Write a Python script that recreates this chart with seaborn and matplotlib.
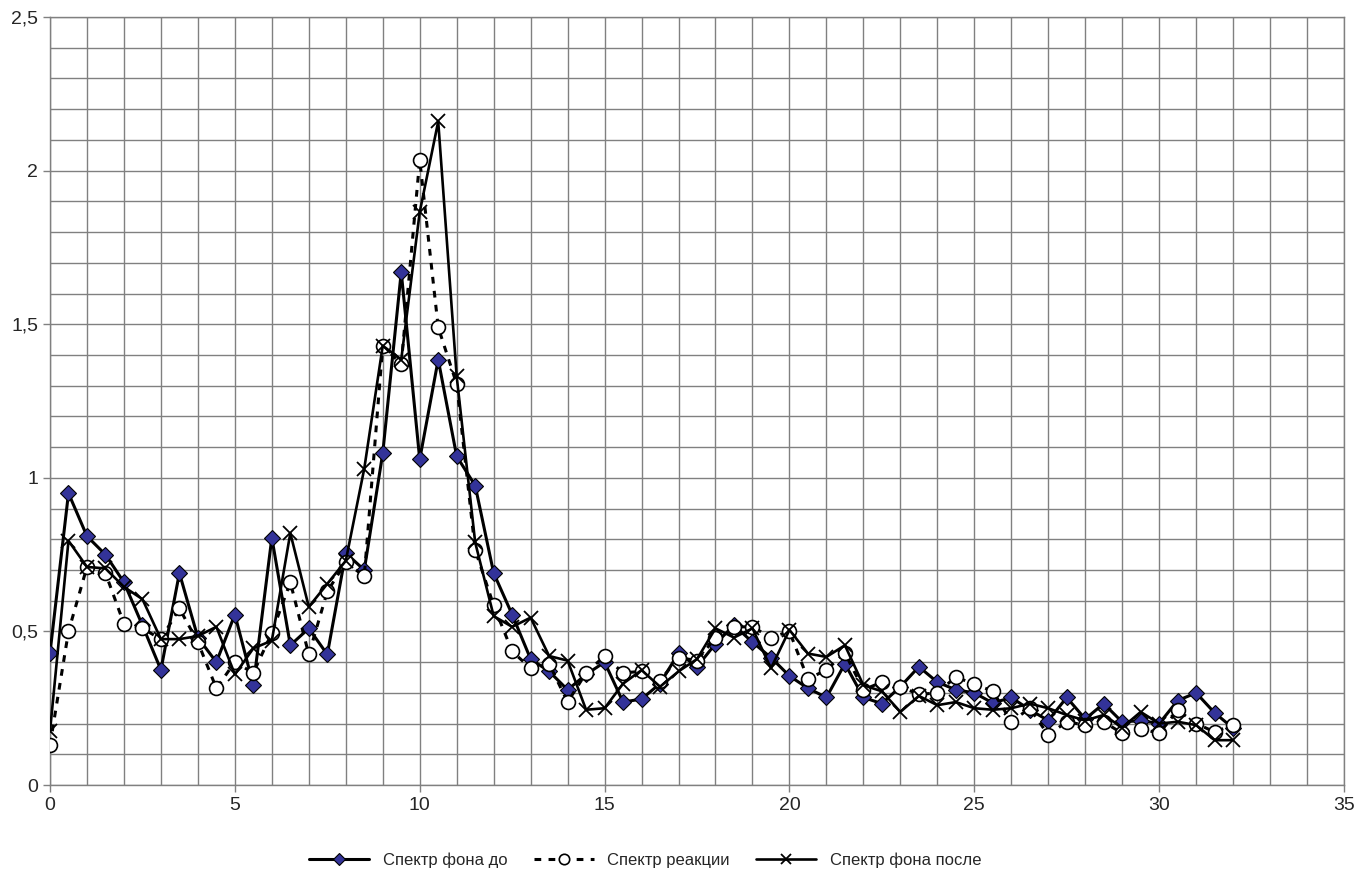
import numpy as np
import pandas as pd
import matplotlib
matplotlib.use('Agg')
import matplotlib.pyplot as plt
import seaborn as sns
from matplotlib.ticker import FuncFormatter, MultipleLocator

# x positions of the measurements
x_vals = [0, 0.5, 1, 1.5, 2, 2.5, 3, 3.5, 4, 4.5, 5, 5.5, 6, 6.5, 7, 7.5, 8, 8.5,
          9, 9.5, 10, 10.5, 11, 11.5, 12, 12.5, 13, 13.5, 14, 14.5, 15, 15.5, 16, 16.5,
          17, 17.5, 18, 18.5, 19, 19.5, 20, 20.5, 21, 21.5, 22, 22.5, 23, 23.5, 24, 24.5,
          25, 25.5, 26, 26.5, 27, 27.5, 28, 28.5, 29, 29.5, 30, 30.5, 31, 31.5, 32]

# Спектр фона до
bg_before = [0.43, 0.95, 0.81, 0.75, 0.66, 0.52, 0.375, 0.69, 0.48, 0.40, 0.555, 0.325,
             0.805, 0.455, 0.51, 0.425, 0.755, 0.70, 1.08, 1.67, 1.06, 1.385, 1.07, 0.975,
             0.69, 0.555, 0.41, 0.37, 0.31, 0.36, 0.40, 0.27, 0.28, 0.33, 0.43, 0.385,
             0.46, 0.52, 0.465, 0.415, 0.355, 0.315, 0.285, 0.395, 0.285, 0.265, 0.32, 0.385,
             0.335, 0.31, 0.30, 0.267, 0.285, 0.245, 0.21, 0.285, 0.215, 0.265, 0.205, 0.21,
             0.20, 0.275, 0.30, 0.235, 0.185]

# Спектр реакции
reaction = [0.13, 0.50, 0.71, 0.69, 0.525, 0.51, 0.475, 0.575, 0.465, 0.315, 0.40, 0.365,
            0.495, 0.66, 0.425, 0.63, 0.725, 0.68, 1.43, 1.37, 2.035, 1.49, 1.305, 0.765,
            0.585, 0.435, 0.38, 0.395, 0.27, 0.365, 0.42, 0.365, 0.37, 0.34, 0.415, 0.405,
            0.48, 0.515, 0.515, 0.48, 0.50, 0.345, 0.375, 0.43, 0.31, 0.335, 0.32, 0.295,
            0.30, 0.352, 0.328, 0.306, 0.206, 0.25, 0.163, 0.206, 0.195, 0.206, 0.168, 0.184,
            0.168, 0.244, 0.20, 0.173, 0.195]

# Спектр фона после
bg_after = [0.175, 0.795, 0.71, 0.705, 0.645, 0.605, 0.475, 0.475, 0.485, 0.515, 0.36, 0.445,
            0.47, 0.82, 0.58, 0.655, 0.73, 1.03, 1.43, 1.385, 1.865, 2.16, 1.33, 0.79,
            0.55, 0.515, 0.545, 0.42, 0.405, 0.245, 0.25, 0.33, 0.374, 0.32, 0.37, 0.41,
            0.51, 0.48, 0.51, 0.38, 0.505, 0.428, 0.417, 0.455, 0.325, 0.305, 0.238, 0.29,
            0.26, 0.27, 0.25, 0.245, 0.25, 0.265, 0.25, 0.228, 0.21, 0.228, 0.187, 0.238,
            0.20, 0.206, 0.195, 0.146, 0.146]

labels = ['Спектр фона до', 'Спектр реакции', 'Спектр фона после']

sns.set_style('white')
plt.rcParams['font.family'] = ['Liberation Sans', 'DejaVu Sans']

fig = plt.figure(figsize=(13.55, 8.74), dpi=100)
ax = fig.add_axes([0.0369, 0.1018, 0.9550, 0.8787])

sns.lineplot(x=x_vals, y=bg_before, ax=ax, color='black', linewidth=2.2,
             marker='D', markersize=8, markerfacecolor='#333399',
             markeredgecolor='black', markeredgewidth=0.8, label=labels[0], zorder=3)
sns.lineplot(x=x_vals, y=reaction, ax=ax, color='black', linewidth=2.2,
             linestyle=(0, (2.2, 2.4)), marker='o', markersize=10,
             markerfacecolor='white', markeredgecolor='black',
             markeredgewidth=1.2, label=labels[1], zorder=4)
sns.lineplot(x=x_vals, y=bg_after, ax=ax, color='black', linewidth=1.9,
             marker='x', markersize=10, markeredgewidth=1.3,
             markeredgecolor='black', label=labels[2], zorder=5)

ax.set_xlim(0, 35)
ax.set_ylim(0, 2.5)
ax.xaxis.set_major_locator(MultipleLocator(5))
ax.xaxis.set_minor_locator(MultipleLocator(1))
ax.yaxis.set_major_locator(MultipleLocator(0.5))
ax.yaxis.set_minor_locator(MultipleLocator(0.1))
ax.yaxis.set_major_formatter(FuncFormatter(lambda v, p: ('%g' % v).replace('.', ',')))
ax.grid(which='both', color='#808080', linewidth=1.0)
ax.set_axisbelow(True)
for s in ax.spines.values():
    s.set_color('#808080')
    s.set_linewidth(1.0)
ax.tick_params(axis='both', which='major', length=5, width=1, color='#808080',
               labelsize=14, direction='out', left=True, bottom=True)
ax.tick_params(which='minor', length=0)
ax.set_xlabel('')
ax.set_ylabel('')

ax.legend(loc='lower center', bbox_to_anchor=(0.46, -0.128), ncol=3, frameon=False,
          fontsize=12, handlelength=3.6, columnspacing=1.6, markerscale=0.75)

fig.savefig('out.png', dpi=100, facecolor='white')
